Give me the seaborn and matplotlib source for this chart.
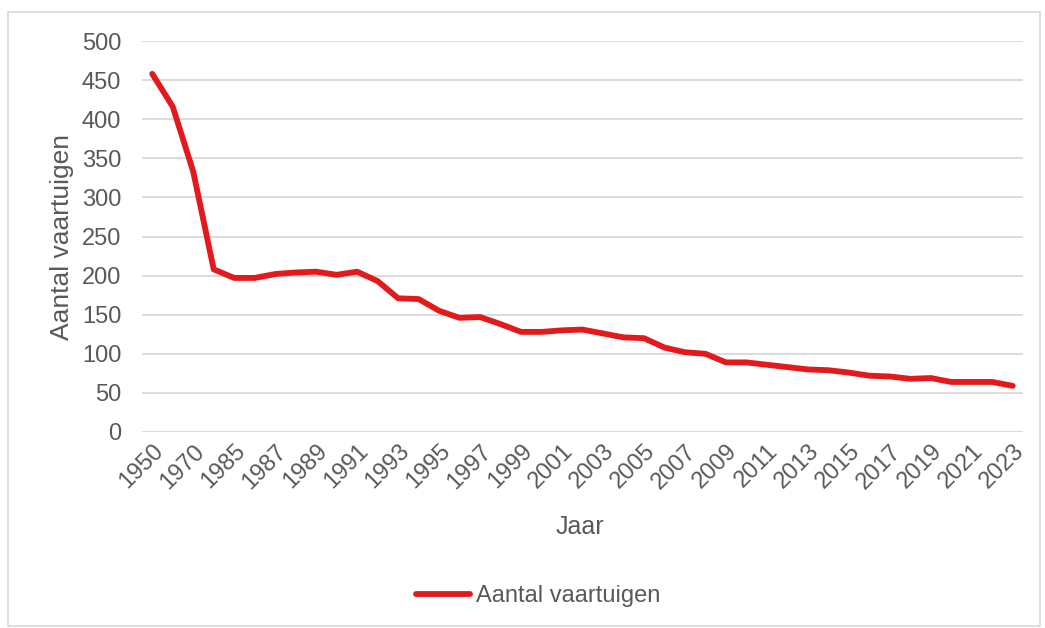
import matplotlib
matplotlib.use("Agg")
import matplotlib.pyplot as plt
import seaborn as sns
import pandas as pd
import numpy as np
from matplotlib.patches import Rectangle

years = ["1950", "1960", "1970", "1980"] + [str(y) for y in range(1985, 2024)]
values = [458, 416, 333, 208,
          197, 197, 202, 204, 205, 201, 205, 193, 171, 170,
          155, 146, 147, 138, 128, 128, 130, 131, 126, 121,
          120, 108, 102, 100, 89, 89, 86, 83, 80, 79,
          76, 72, 71, 68, 69, 64, 64, 64, 59]
series_name = "Aantal vaartuigen"
x_title = "Jaar"
y_ticks = [0, 50, 100, 150, 200, 250, 300, 350, 400, 450, 500]

sns.set_theme(style="white")
plt.rcParams['font.family'] = ['Liberation Sans', 'DejaVu Sans']
txt = "#595959"
red = "#E31A1C"

df = pd.DataFrame({"pos": np.arange(len(years)), "year": years, "val": values})

fig = plt.figure(figsize=(10.45, 6.28), dpi=100)
ax = fig.add_axes([142/1045, 1-432/628, 881/1045, 391/628])

for t in y_ticks:
    ax.axhline(t, color="#D9D9D9", lw=1.3, zorder=0)

sns.lineplot(data=df, x="pos", y="val", ax=ax, color=red, lw=3.8,
             label=series_name, legend=False, zorder=3)

ax.set_xlim(-0.5, len(years) - 0.5)
ax.set_ylim(0, 500)
ax.set_yticks(y_ticks)
ax.set_yticklabels([str(t) for t in y_ticks], fontsize=17, color=txt)
shown = list(range(0, len(years), 2))
ax.set_xticks(shown)
ax.set_xticklabels([years[i] for i in shown], rotation=45, ha="right",
                   rotation_mode="anchor", fontsize=17, color=txt)
ax.tick_params(axis="both", length=0)
ax.tick_params(axis="y", pad=15)
ax.tick_params(axis="x", pad=6)
for s in ax.spines.values():
    s.set_visible(False)

ax.set_xlabel(x_title, fontsize=18, color=txt)
ax.set_ylabel(series_name, fontsize=19, color=txt)
ax.xaxis.set_label_coords((580-142)/881, (432-527)/391)
ax.xaxis.label.set_va("center")
ax.yaxis.set_label_coords((62-142)/881, (432-237)/391)
ax.yaxis.label.set_va("center")

h, l = ax.get_legend_handles_labels()
for hh in h:
    hh.set_linewidth(4.2)
leg = fig.legend(h, l, loc="center", bbox_to_anchor=(538/1045, 1-596/628),
                 frameon=False, fontsize=17, handlelength=2.3, handletextpad=0.25)
for t in leg.get_texts():
    t.set_color(txt)

fig.patches.append(Rectangle((8/1045, 2/628), 1032/1045, 614/628, transform=fig.transFigure,
                             fill=False, edgecolor="#D9D9D9", lw=1.2))

fig.savefig("out.png", dpi=100, facecolor="white")
